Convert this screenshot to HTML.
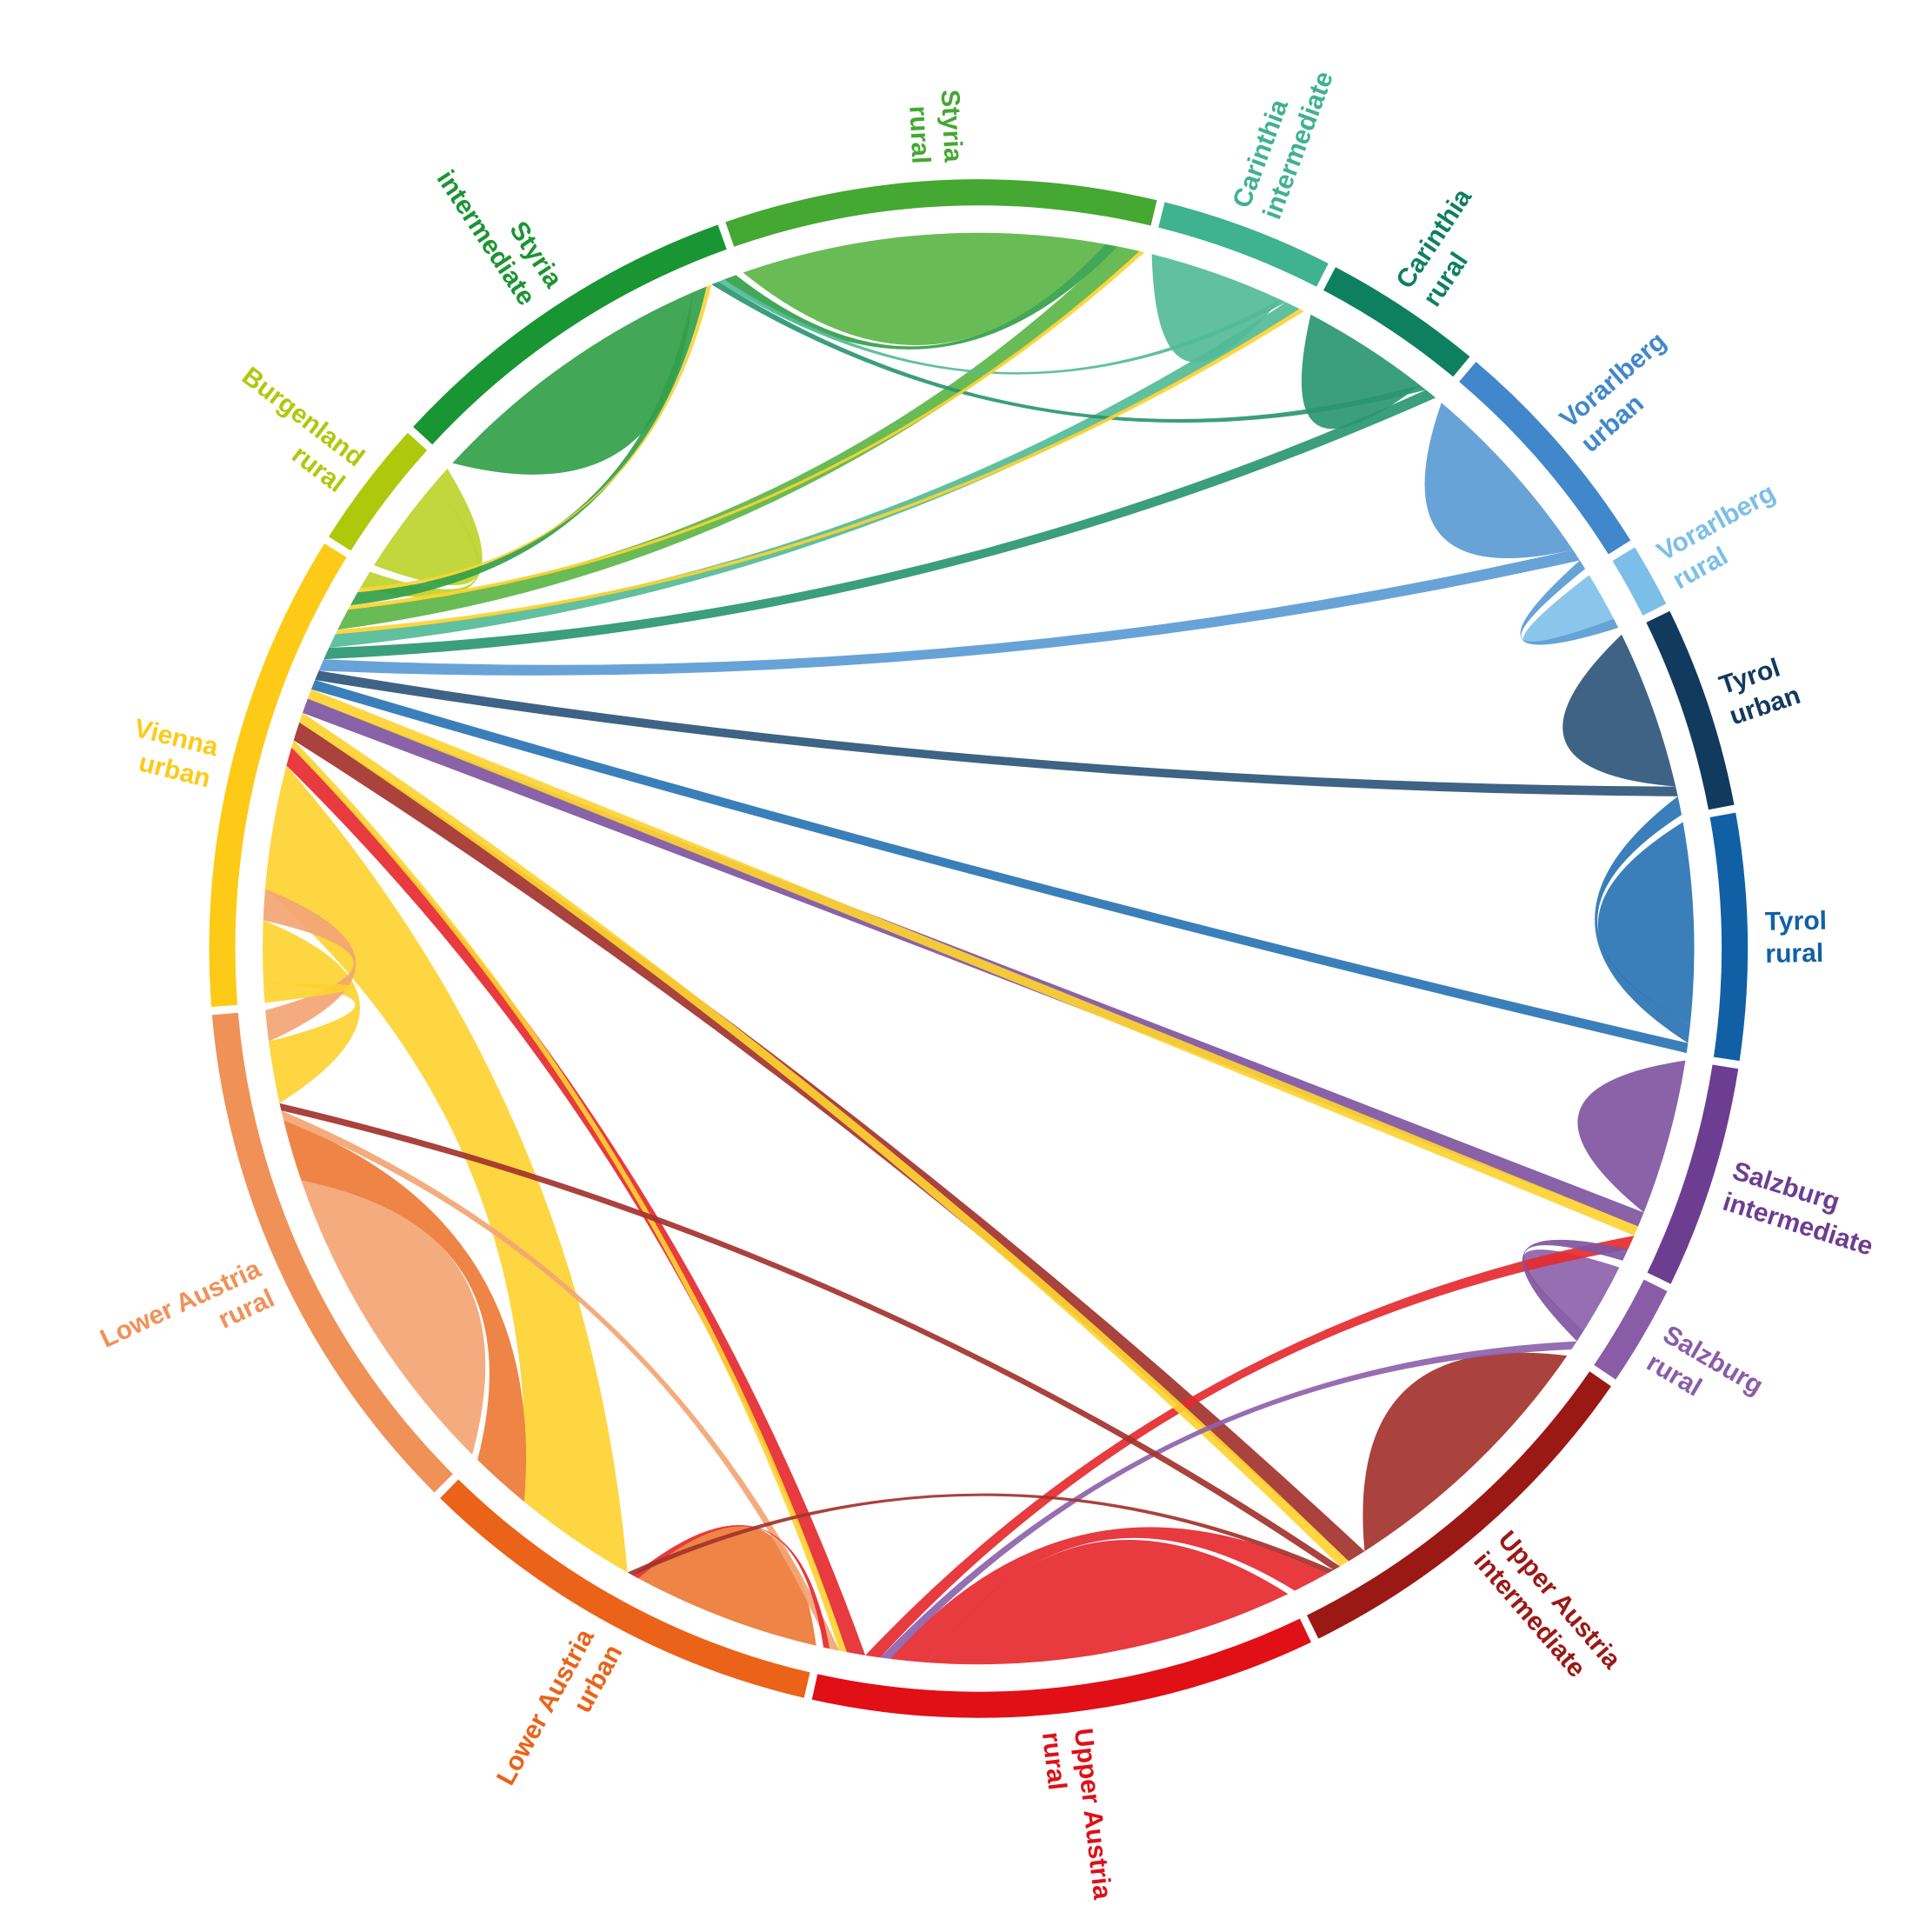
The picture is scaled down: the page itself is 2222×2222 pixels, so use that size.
<!DOCTYPE html>
<html>
<head>
<meta charset="utf-8">
<style>
  html,body{margin:0;padding:0;background:#fff;}
  svg{display:block;}
  text{font-family:"Liberation Sans",sans-serif;font-weight:bold;}
</style>
</head>
<body>
<svg id="chart" width="2222" height="2222" viewBox="0 0 1552 1552" xmlns="http://www.w3.org/2000/svg">
  <g id="chords"></g>
  <g id="ring"></g>
  <g id="labels"></g>
</svg>
<script>
const groupNames = ["Styria rural","Carinthia intermediate","Carinthia rural","Vorarlberg urban","Vorarlberg rural","Tyrol urban","Tyrol rural","Salzburg intermediate","Salzburg rural","Upper Austria intermediate","Upper Austria rural","Lower Austria urban","Lower Austria rural","Vienna urban","Burgenland rural","Styria intermediate"];
const labelLine1 = ["Styria","Carinthia","Carinthia","Vorarlberg","Vorarlberg","Tyrol","Tyrol","Salzburg","Salzburg","Upper Austria","Upper Austria","Lower Austria","Lower Austria","Vienna","Burgenland","Styria"];
const labelLine2 = ["rural","intermediate","rural","urban","rural","urban","rural","intermediate","rural","intermediate","rural","urban","rural","urban","rural","intermediate"];
const ringColors = ["#44a832","#3fb28f","#0e8060","#4187cb","#7bbfe8","#123a5e","#1160a6","#6d3d91","#8a5ca8","#9b1915","#e10f16","#ea6319","#f09158","#fdcb17","#aec90b","#1a9533"];
const chordColors = ["#5cb548","#52bb97","#2a9672","#5b9bd5","#80c0ea","#2e5679","#2a74b4","#7f55a0","#8d62ab","#a3322d","#e52a2f","#ed7a35","#f3a574","#fdd232","#bdd22c","#33a04a"];
const flowSource = [0,1,2,3,4,5,6,7,8,9,10,11,12,13,14,15, 13,13,12,13,13,13,13,13,13,13,13,13,13,13,13,13,13,13,13,13, 12,12,12,11,11,10,10,10,15,15,15,3,5,7];
const flowTarget = [0,1,2,3,4,5,6,7,8,9,10,11,12,13,14,15, 11,12,13,0,1,2,3,5,6,7,9,10,15,14,7,9,10,15,0,1, 11,10,9,10,9,9,7,8,0,1,2,4,6,8];
const flowValue  = [14.65,5.45,5.2,7.9,2,6.45,8.1,6.3,2.9,11.3,14.8,7.6,13,0.8,4.1,11.85, 10,5,2.5,1.8,1.2,1,1,0.8,0.8,1.2,1.5,1.5,1.2,1.5,0.8,0.8,0.6,0.4,0.4,0.4, 5,0.8,0.6,0.5,0.5,3,1.2,0.8,1,0.5,0.6,0.8,1.5,1];
const flowColor  = [0,1,2,3,4,5,6,7,8,9,10,11,12,13,14,15, 13,13,12,0,1,2,3,5,6,7,9,10,15,14,13,13,13,13,13,13, 11,12,9,10,9,10,10,8,15,1,2,3,6,7];

const CX = 786, CY = 762, R_OUT = 618, R_IN = 597, R_CH = 575, R_LAB = 632;
const GAP = 0.6, START = -19.2, N = groupNames.length;
const NS = "http://www.w3.org/2000/svg";
const rad = d => d * Math.PI / 180;
const pt = (r, a) => [CX + r * Math.sin(rad(a)), CY - r * Math.cos(rad(a))];
const f = p => p[0].toFixed(2) + "," + p[1].toFixed(2);

// group totals
const totals = new Array(N).fill(0);
flowValue.forEach((v, k) => { totals[flowSource[k]] += v; totals[flowTarget[k]] += v; });
const total = totals.reduce((a, b) => a + b, 0);
const scale = (360 - N * GAP) / total;
const gStart = [], gEnd = [];
let acc = START;
for (let i = 0; i < N; i++) { gStart.push(acc); acc += totals[i] * scale; gEnd.push(acc); acc += GAP; }

// ends allocation
const endA = {}, endB = {};
for (let i = 0; i < N; i++) {
  const selfs = [], cross = [];
  flowValue.forEach((v, k) => {
    if (flowSource[k] === i && flowTarget[k] === i) selfs.push(k);
    else if (flowSource[k] === i || flowTarget[k] === i) cross.push(k);
  });
  const off = k => { const j = flowSource[k] === i ? flowTarget[k] : flowSource[k]; return (j - i + N) % N; };
  cross.sort((a, b) => off(b) - off(a));
  let a = gStart[i];
  const list = [];
  selfs.forEach(k => list.push([k, 'A']));
  selfs.forEach(k => list.push([k, 'B']));
  cross.forEach(k => list.push([k, flowSource[k] === i ? 'A' : 'B']));
  list.forEach(([k, side]) => {
    const w = flowValue[k] * scale;
    (side === 'A' ? endA : endB)[k] = [a, a + w];
    a += w;
  });
}

function ctrl(p, q) {
  const mx = (p[0] + q[0]) / 2, my = (p[1] + q[1]) / 2;
  return [CX + 0.75 * (mx - CX), CY + 0.75 * (my - CY)];
}

const chordG = document.getElementById("chords");
const order = flowValue.map((v, k) => k).sort((a, b) => flowValue[b] - flowValue[a]);
order.forEach(k => {
  const [a0, a1] = endA[k], [b0, b1] = endB[k];
  const pa0 = pt(R_CH, a0), pa1 = pt(R_CH, a1), pb0 = pt(R_CH, b0), pb1 = pt(R_CH, b1);
  const d = "M" + f(pa0) + " A" + R_CH + "," + R_CH + " 0 0 1 " + f(pa1) +
    " Q" + f(ctrl(pa1, pb0)) + " " + f(pb0) +
    " A" + R_CH + "," + R_CH + " 0 0 1 " + f(pb1) +
    " Q" + f(ctrl(pb1, pa0)) + " " + f(pa0) + " Z";
  const p = document.createElementNS(NS, "path");
  p.setAttribute("d", d);
  p.setAttribute("fill", chordColors[flowColor[k]]);
  p.setAttribute("fill-opacity", "0.92");
  
  
  chordG.appendChild(p);
});

const ringG = document.getElementById("ring");
const labG = document.getElementById("labels");
for (let i = 0; i < N; i++) {
  const s = gStart[i], e = gEnd[i];
  const large = (e - s) > 180 ? 1 : 0;
  const d = "M" + f(pt(R_OUT, s)) + " A" + R_OUT + "," + R_OUT + " 0 " + large + " 1 " + f(pt(R_OUT, e)) +
    " L" + f(pt(R_IN, e)) + " A" + R_IN + "," + R_IN + " 0 " + large + " 0 " + f(pt(R_IN, s)) + " Z";
  const p = document.createElementNS(NS, "path");
  p.setAttribute("d", d);
  p.setAttribute("fill", ringColors[i]);
  
  
  ringG.appendChild(p);

  let mid = (s + e) / 2;
  let m = ((mid % 360) + 360) % 360;
  const right = m > 0 && m < 180;
  const rot = right ? m - 90 : m + 90;
  const lp = pt(R_LAB, mid);
  const t = document.createElementNS(NS, "text");
  t.setAttribute("transform", "translate(" + f(lp) + ") rotate(" + rot.toFixed(2) + ")");
  t.setAttribute("text-anchor", right ? "start" : "end");
  t.setAttribute("font-size", "21");
  t.setAttribute("fill", ringColors[i]);
  
  
  const s1 = document.createElementNS(NS, "tspan");
  s1.setAttribute("x", "0"); s1.setAttribute("y", "-5");
  s1.textContent = labelLine1[i];
  const s2 = document.createElementNS(NS, "tspan");
  s2.setAttribute("x", "0"); s2.setAttribute("y", "21");
  s2.textContent = labelLine2[i];
  t.appendChild(s1); t.appendChild(s2);
  labG.appendChild(t);
}
</script>
</body>
</html>
